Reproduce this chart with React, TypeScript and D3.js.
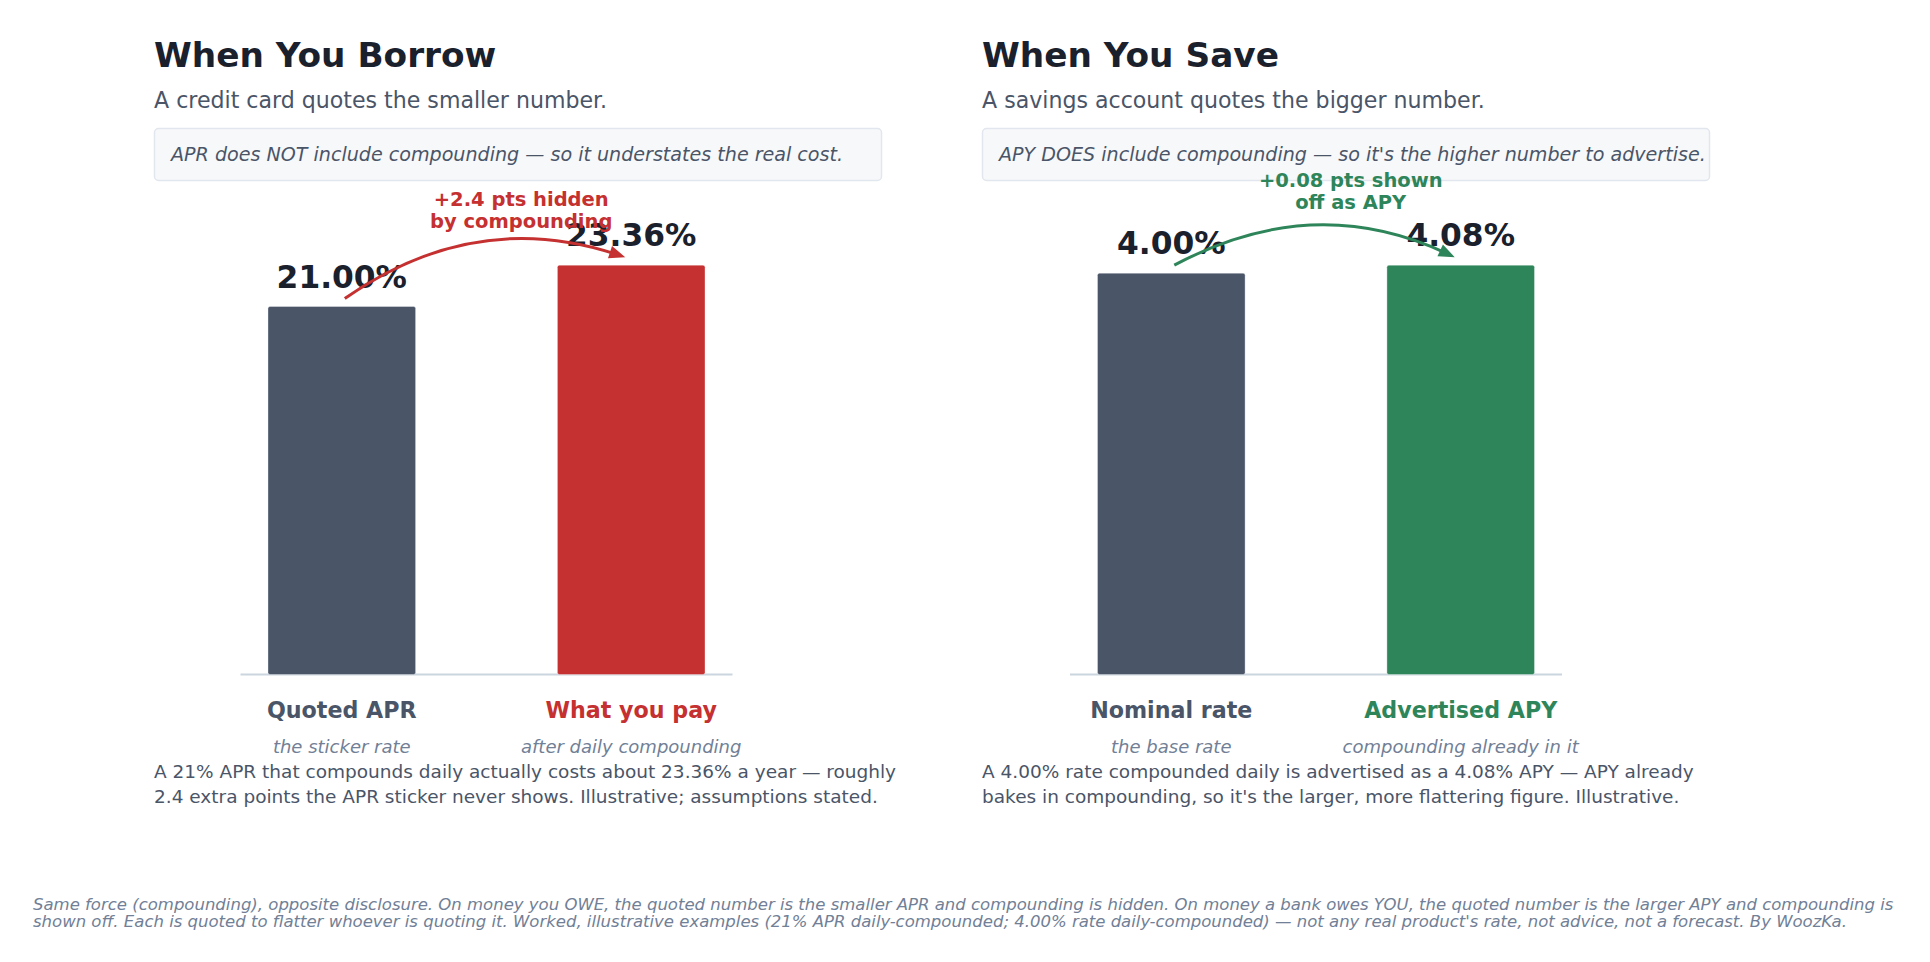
import React from 'react';
import * as d3 from 'd3';

const W = 1930;
const H = 962;
const FONT = '"DejaVu Sans", Verdana, sans-serif';

const PANEL_TITLES = ['When You Borrow', 'When You Save'];
const PANEL_SUBTITLES = [
  'A credit card quotes the smaller number.',
  'A savings account quotes the bigger number.',
];
const PANEL_NOTES = [
  'APR does NOT include compounding \u2014 so it understates the real cost.',
  "APY DOES include compounding \u2014 so it's the higher number to advertise.",
];

const BORROW_CATEGORIES = ['Quoted APR', 'What you pay'];
const BORROW_SUBLABELS = ['the sticker rate', 'after daily compounding'];
const BORROW_VALUES = [21.0, 23.36];

const SAVE_CATEGORIES = ['Nominal rate', 'Advertised APY'];
const SAVE_SUBLABELS = ['the base rate', 'compounding already in it'];
const SAVE_VALUES = [4.0, 4.08];

const ANNOTATIONS = [
  ['+2.4 pts hidden', 'by compounding'],
  ['+0.08 pts shown', 'off as APY'],
];

const DESCRIPTIONS = [
  [
    'A 21% APR that compounds daily actually costs about 23.36% a year \u2014 roughly',
    '2.4 extra points the APR sticker never shows. Illustrative; assumptions stated.',
  ],
  [
    'A 4.00% rate compounded daily is advertised as a 4.08% APY \u2014 APY already',
    "bakes in compounding, so it's the larger, more flattering figure. Illustrative.",
  ],
];

const FOOTER_LINES = [
  'Same force (compounding), opposite disclosure. On money you OWE, the quoted number is the smaller APR and compounding is hidden. On money a bank owes YOU, the quoted number is the larger APY and compounding is',
  "shown off. Each is quoted to flatter whoever is quoting it. Worked, illustrative examples (21% APR daily-compounded; 4.00% rate daily-compounded) \u2014 not any real product's rate, not advice, not a forecast. By WoozKa.",
];

const SLATE = '#4a5568';
const RED = '#c53030';
const GREEN = '#2f855a';
const INK = '#1a202c';
const MUTED = '#718096';

// layout per panel (pixels)
const PANEL_X = [154, 982];
const AXIS_X = [240.5, 1070];
const ANN_BASELINE = [205.5, 187];

function Panel({ idx, cats, subs, values, accent }) {
  const px = PANEL_X[idx];
  const ax = AXIS_X[idx];
  const plotTop = 183.3;
  const plotBottom = 674.5;

  const x = d3.scaleLinear().domain([-0.35, 1.35]).range([ax, ax + 492]);
  const y = d3.scaleLinear().domain([0, (d3.max(values) as number) * 1.2]).range([plotBottom, plotTop]);
  const barW = x(0.51) - x(0);
  const colors = [SLATE, accent];

  // curved arrow from bar 0 to bar 1 (quadratic, like matplotlib arc3)
  const sx = x(0) + 3, sy = y(values[0]) - 8;
  const ex = x(1) - 6, ey = y(values[1]) - 8;
  const rad = 0.25;
  const mx = (sx + ex) / 2, my = (sy + ey) / 2;
  const cx = mx + rad * (ey - sy);
  const cy = my - rad * (ex - sx);
  const tx = ex - cx, ty = ey - cy;
  const tl = Math.hypot(tx, ty);
  const ux = tx / tl, uy = ty / tl;
  const headLen = 16, headHalf = 6.5;
  const path = d3.path();
  path.moveTo(sx, sy);
  path.quadraticCurveTo(cx, cy, ex - ux * headLen * 0.6, ey - uy * headLen * 0.6);
  const bx = ex - ux * headLen, by = ey - uy * headLen;
  const head = [
    [ex, ey],
    [bx - uy * headHalf, by + ux * headHalf],
    [bx + uy * headHalf, by - ux * headHalf],
  ];

  const annX = x(0.62);
  const annY = ANN_BASELINE[idx];

  return (
    <g>
      <text x={px} y={67} fontSize={34.3} fontWeight="bold" fill={INK}>{PANEL_TITLES[idx]}</text>
      <text x={px} y={108} fontSize={22.1} fill={SLATE}>{PANEL_SUBTITLES[idx]}</text>
      <rect x={px + 0.5} y={128.5} width={727} height={52} rx={4} fill="#f7f8fa" stroke="#e2e6ee" strokeWidth={1.5} />
      <text x={px + 17} y={161} fontSize={19.1} fontStyle="italic" fill={SLATE}>{PANEL_NOTES[idx]}</text>

      <line x1={x(-0.35)} x2={x(1.35)} y1={plotBottom} y2={plotBottom} stroke="#cbd5e0" strokeWidth={2} />
      {values.map((v, i) => (
        <rect
          key={i}
          x={x(i) - barW / 2}
          y={y(v)}
          width={barW}
          height={plotBottom - y(v)}
          rx={2}
          fill={colors[i]}
          stroke="#ffffff"
          strokeOpacity={0.35}
          strokeWidth={1}
        />
      ))}
      {values.map((v, i) => (
        <text key={i} x={x(i)} y={y(v) - 19} textAnchor="middle" fontSize={31.3} fontWeight="bold" fill={INK}>
          {v.toFixed(2)}%
        </text>
      ))}

      <path d={path.toString()} fill="none" stroke={accent} strokeWidth={3} />
      <polygon points={head.map(p => p.join(',')).join(' ')} fill={accent} />
      {ANNOTATIONS[idx].map((line, i) => (
        <text key={i} x={annX} y={annY + i * 22} textAnchor="middle" fontSize={19.5} fontWeight="bold" fill={accent}>
          {line}
        </text>
      ))}

      {cats.map((c, i) => (
        <text key={c} x={x(i)} y={717.5} textAnchor="middle" fontSize={22.2} fontWeight="bold" fill={colors[i]}>
          {c}
        </text>
      ))}
      {subs.map((s, i) => (
        <text key={s} x={x(i)} y={753} textAnchor="middle" fontSize={18} fontStyle="italic" fill={MUTED}>
          {s}
        </text>
      ))}
      {DESCRIPTIONS[idx].map((line, i) => (
        <text key={i} x={px} y={778 + i * 24.5} fontSize={18.5} fill={SLATE}>{line}</text>
      ))}
    </g>
  );
}

export default function App() {
  return (
    <svg
      width={W}
      height={H}
      viewBox={`0 0 ${W} ${H}`}
      style={{ position: 'absolute', left: 0, top: 0, display: 'block', background: '#ffffff' }}
      fontFamily={FONT}
    >
      <rect width={W} height={H} fill="#ffffff" />
      <Panel idx={0} cats={BORROW_CATEGORIES} subs={BORROW_SUBLABELS} values={BORROW_VALUES} accent={RED} />
      <Panel idx={1} cats={SAVE_CATEGORIES} subs={SAVE_SUBLABELS} values={SAVE_VALUES} accent={GREEN} />
      {FOOTER_LINES.map((line, i) => (
        <text key={i} x={33} y={909.5 + i * 17.3} fontSize={16.5} fontStyle="italic" fill={MUTED}>{line}</text>
      ))}
    </svg>
  );
}
